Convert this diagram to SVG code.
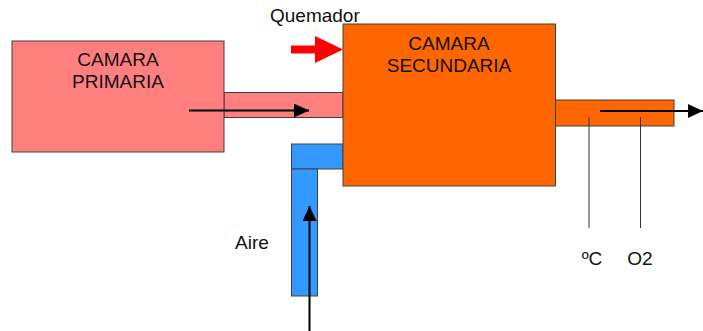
<svg xmlns="http://www.w3.org/2000/svg" width="703" height="331" viewBox="0 0 703 331">
<style>
.box{stroke:#404040;stroke-width:1}
.t{font-family:"Liberation Sans",Arial,sans-serif;font-size:19px;fill:#111}
.c{text-anchor:middle}
.ar{stroke:#000;stroke-width:2;fill:none}
.thin{stroke:#333;stroke-width:1;fill:none}
</style>
<defs>
<marker id="ah" markerWidth="15" markerHeight="14" refX="15" refY="7" orient="auto" markerUnits="userSpaceOnUse" viewBox="0 0 15 14">
<path d="M0,0 L15,7 L0,14 Z" fill="#000"/>
</marker>
</defs>
<g id="duct-primary"><rect class="box" x="224" y="92.5" width="119" height="25" fill="#FF7F7F"/></g>
<g id="duct-air">
<rect class="box" x="291.5" y="144" width="51.5" height="25" fill="#3399FF"/>
<rect class="box" x="291.5" y="169" width="26" height="127" fill="#3399FF"/>
</g>
<g id="duct-exhaust"><rect class="box" x="555.5" y="100" width="118.5" height="26" fill="#FF6600"/></g>
<g id="camara-primaria">
<rect class="box" x="12" y="41" width="212" height="111" fill="#FF7F7F"/>
<text class="t c" x="118" y="66">CAMARA</text>
<text class="t c" x="118" y="88">PRIMARIA</text>
</g>
<g id="camara-secundaria">
<rect class="box" x="343" y="24" width="212.5" height="162" fill="#FF6600"/>
<text class="t c" x="449" y="50">CAMARA</text>
<text class="t c" x="449" y="72">SECUNDARIA</text>
</g>
<g id="quemador">
<text class="t" x="270" y="22">Quemador</text>
<path d="M291,45.5 L315,45.5 L315,36 L343,49.5 L315,63 L315,53.5 L291,53.5 Z" fill="#FF0000"/>
</g>
<g id="labels">
<text class="t c" x="252" y="249">Aire</text>
<text class="t c" x="592" y="265">ºC</text>
<text class="t c" x="640" y="265">O2</text>
</g>
<g id="connectors">
<line class="ar" x1="189" y1="110.5" x2="309" y2="110.5" marker-end="url(#ah)"/>
<line class="ar" x1="309.5" y1="331" x2="309.5" y2="206" marker-end="url(#ah)"/>
<line class="ar" x1="600" y1="111" x2="703" y2="111" marker-end="url(#ah)"/>
<line class="thin" x1="589" y1="117" x2="589" y2="228"/>
<line class="thin" x1="640.5" y1="117" x2="640.5" y2="228"/>
</g>
</svg>
